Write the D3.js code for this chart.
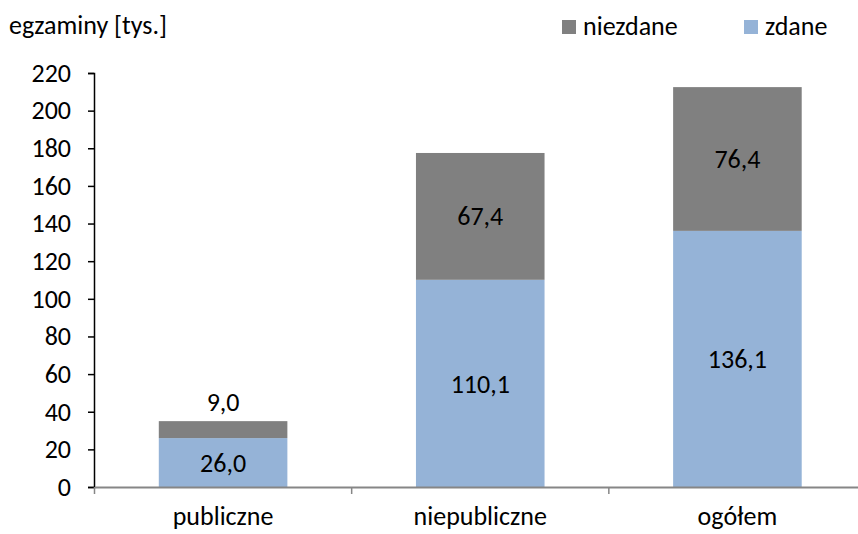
<!DOCTYPE html>
<html>
<head>
<meta charset="utf-8">
<script src="https://cdn.jsdelivr.net/npm/d3@7"></script>
<style>
    body { margin: 0; background: #fff; }
    svg { font-family: Carlito, Lato, "Open Sans", sans-serif; }
</style>
</head>
<body>
<div id="chart"></div>
<script>
const categories = ["publiczne", "niepubliczne", "ogółem"];
const passed = [26.0, 110.1, 136.1];
const failed = [9.0, 67.4, 76.4];
const yTicks = [0, 20, 40, 60, 80, 100, 120, 140, 160, 180, 200, 220];
const seriesNames = ["niezdane", "zdane"];

const colorPassed = "#95b3d7";
const colorFailed = "#808080";
const width = 858, height = 534;
const fontSize = 26;
const fontFamily = "Carlito, Lato, 'Open Sans', sans-serif";

let svg = d3.select("#chart").append("svg")
    .attr("width", width)
    .attr("height", height);

let scaleX = d3.scaleBand()
    .domain(categories)
    .range([94.5, 866])
    .paddingInner(0.5)
    .paddingOuter(0.25);

let scaleY = d3.scaleLinear()
    .domain([0, 220])
    .range([487, 73]);

let fmt = v => v.toFixed(1).replace(".", ",");

// bars
categories.forEach((cat, i) => {
    let x = scaleX(cat);
    let bw = scaleX.bandwidth();
    svg.append("rect")
        .attr("x", x).attr("width", bw)
        .attr("y", scaleY(passed[i]))
        .attr("height", scaleY(0) - scaleY(passed[i]))
        .attr("fill", colorPassed);
    svg.append("rect")
        .attr("x", x).attr("width", bw)
        .attr("y", scaleY(passed[i] + failed[i]))
        .attr("height", scaleY(passed[i]) - scaleY(passed[i] + failed[i]))
        .attr("fill", colorFailed);

    svg.append("text")
        .attr("x", x + bw / 2)
        .attr("y", scaleY(passed[i] / 2))
        .attr("dy", "0.35em")
        .attr("text-anchor", "middle")
        .attr("font-size", fontSize)
        .text(fmt(passed[i]));

    let segH = scaleY(passed[i]) - scaleY(passed[i] + failed[i]);
    let labelY = segH < 25
        ? scaleY(passed[i] + failed[i]) - 19
        : scaleY(passed[i] + failed[i] / 2);
    svg.append("text")
        .attr("x", x + bw / 2)
        .attr("y", labelY)
        .attr("dy", "0.35em")
        .attr("text-anchor", "middle")
        .attr("font-size", fontSize)
        .text(fmt(failed[i]));
});

// y axis
let axisY = d3.axisLeft(scaleY)
    .tickValues(yTicks)
    .tickSize(6)
    .tickPadding(17)
    .tickFormat(d => d.toString());

let gY = svg.append("g")
    .attr("transform", "translate(94, 0)")
    .call(axisY);
gY.select(".domain").attr("stroke", "#000").attr("stroke-width", 1.5);
gY.selectAll(".tick line").attr("stroke", "#000").attr("stroke-width", 1.5);
gY.selectAll("text")
    .attr("font-size", fontSize)
    .attr("font-family", fontFamily)
    .attr("fill", "#000");

// x axis
let axisX = d3.axisBottom(scaleX)
    .tickSize(0)
    .tickPadding(20);

let gX = svg.append("g")
    .attr("transform", "translate(0, 487)")
    .call(axisX);
gX.select(".domain").attr("stroke", "#868686").attr("stroke-width", 2);
gX.selectAll("text")
    .attr("font-size", fontSize)
    .attr("font-family", fontFamily)
    .attr("fill", "#000");

// category separators on x axis
let boundaries = categories.map(c => scaleX(c) - scaleX.bandwidth() / 2);
svg.selectAll(".sep")
    .data(boundaries)
    .enter()
    .append("line")
        .attr("class", "sep")
        .attr("x1", d => d).attr("x2", d => d)
        .attr("y1", 487).attr("y2", 494)
        .attr("stroke", "#868686")
        .attr("stroke-width", 1.5);

// axis title
svg.append("text")
    .attr("x", 9)
    .attr("y", 34)
    .attr("font-size", fontSize)
    .text("egzaminy [tys.]");

// legend
let legendX = [562, 744];
let legendColors = [colorFailed, colorPassed];
seriesNames.forEach((name, i) => {
    svg.append("rect")
        .attr("x", legendX[i]).attr("y", 20)
        .attr("width", 14).attr("height", 14)
        .attr("fill", legendColors[i]);
    svg.append("text")
        .attr("x", legendX[i] + 21)
        .attr("y", 35)
        .attr("font-size", fontSize)
        .text(name);
});
</script>
</body>
</html>
